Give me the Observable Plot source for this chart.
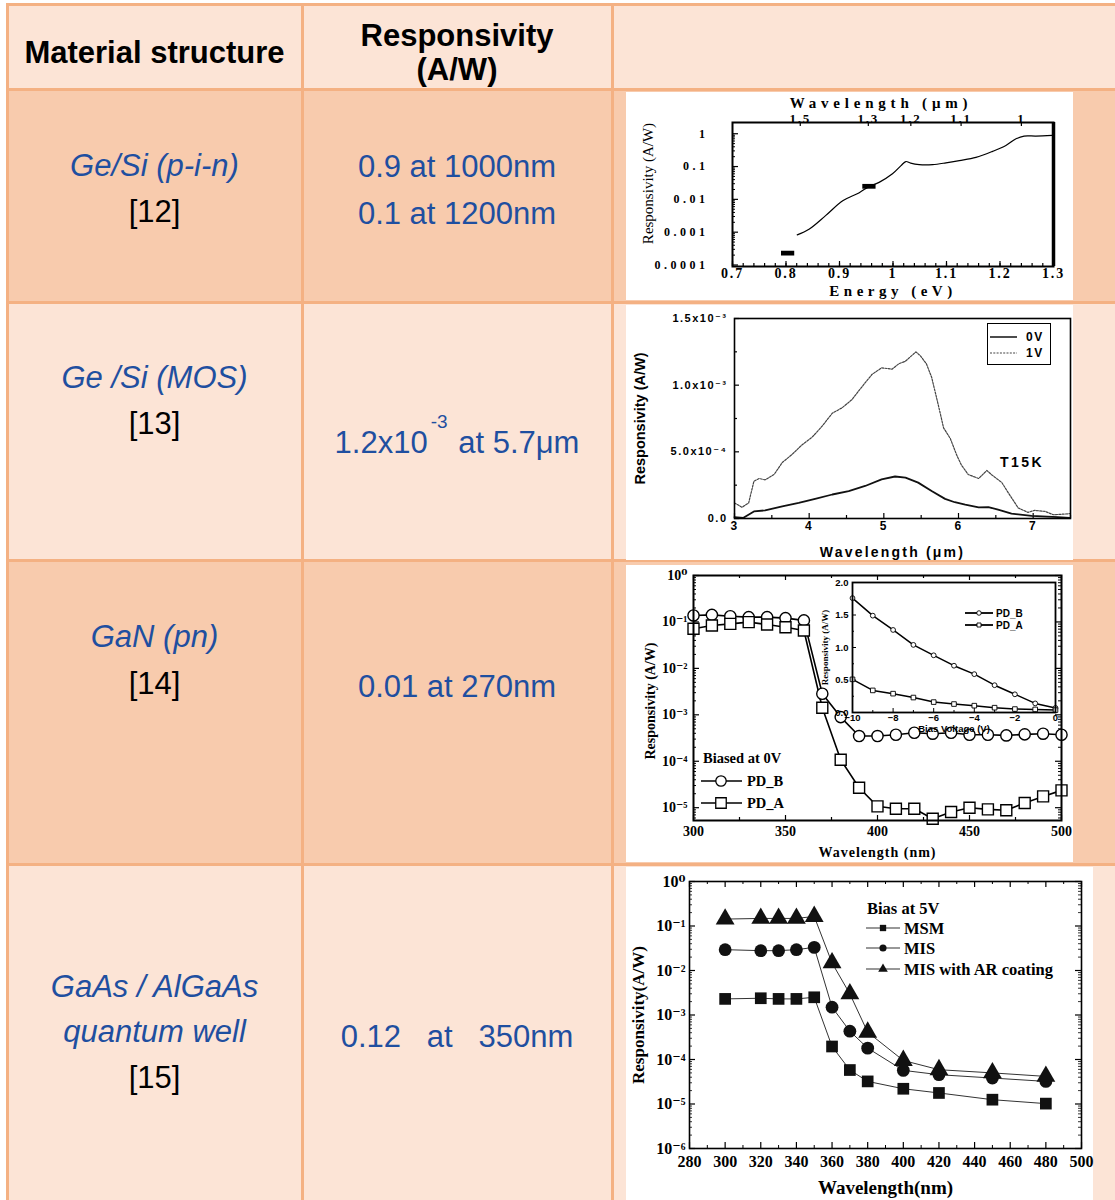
<!DOCTYPE html>
<html><head><meta charset="utf-8">
<script src="https://cdn.jsdelivr.net/npm/d3@7"></script>
<script src="https://cdn.jsdelivr.net/npm/@observablehq/plot@0.6"></script>
<style>
html,body{margin:0;padding:0;background:#fff;}
#page{position:relative;width:1115px;height:1200px;overflow:hidden;background:#fff;font-family:"Liberation Sans",Arial,sans-serif;}
.blk{position:absolute;}
.txt{position:absolute;text-align:center;font-size:31px;line-height:34px;white-space:pre;color:#000;}
.blue{color:#1f4fa0;}
.it{font-style:italic;}
.b{font-weight:bold;}
.chart{position:absolute;}
.chart svg{display:block;}
.ov{position:absolute;pointer-events:none;overflow:visible;}
</style></head><body><div id="page"></div>
<script>
// ---------------- table text ----------------
const headers = ["Material structure", "Responsivity\n(A/W)"];
const materials = [["Ge/Si (p-i-n)"], ["Ge /Si (MOS)"], ["GaN (pn)"], ["GaAs / AlGaAs", "quantum well"]];
const refs = ["[12]", "[13]", "[14]", "[15]"];
const responsivities = [["0.9 at 1000nm", "0.1 at 1200nm"], ["1.2x10|-3| at 5.7μm"], ["0.01 at 270nm"], ["0.12   at   350nm"]];

// ---------------- chart 1: Ge/Si p-i-n ----------------
const c1Energy = [0.821, 0.843, 0.874, 0.906, 0.937, 0.955, 0.974, 0.999, 1.015, 1.024, 1.033, 1.049, 1.074, 1.099, 1.124, 1.155, 1.186, 1.211, 1.230, 1.245, 1.267, 1.298];
const c1Resp = [0.00083, 0.00123, 0.0032, 0.0091, 0.016, 0.0245, 0.033, 0.060, 0.107, 0.142, 0.127, 0.115, 0.115, 0.13, 0.152, 0.19, 0.29, 0.44, 0.70, 0.85, 0.85, 0.89];
const c1MarkEnergy = [0.803, 0.955];
const c1MarkResp = [0.00023, 0.025];
const c1XTicks = [0.7, 0.8, 0.9, 1.0, 1.1, 1.2, 1.3];
const c1XTickLabels = ["0.7", "0.8", "0.9", "1", "1.1", "1.2", "1.3"];
const c1YTicks = [1, 0.1, 0.01, 0.001, 0.0001];
const c1YTickLabels = ["1", "0.1", "0.01", "0.001", "0.0001"];
const c1WavelengthTicks = [1.5, 1.3, 1.2, 1.1, 1];
const c1WavelengthLabels = ["1.5", "1.3", "1.2", "1.1", "1"];

// ---------------- chart 2: Ge/Si MOS ----------------
const c2Wl1V = [3.0, 3.10, 3.19, 3.26, 3.33, 3.41, 3.53, 3.64, 3.77, 3.90, 4.04, 4.17, 4.31, 4.44, 4.57, 4.71, 4.84, 4.97, 5.11, 5.20, 5.29, 5.37, 5.43, 5.49, 5.57, 5.64, 5.73, 5.80, 5.89, 5.98, 6.04, 6.13, 6.27, 6.38, 6.44, 6.58, 6.67, 6.80, 6.93, 7.02, 7.16, 7.27, 7.49];
const c2Resp1V = [0.117, 0.084, 0.117, 0.28, 0.30, 0.29, 0.33, 0.42, 0.48, 0.55, 0.61, 0.69, 0.79, 0.83, 0.89, 0.99, 1.08, 1.13, 1.12, 1.16, 1.18, 1.22, 1.25, 1.22, 1.16, 1.06, 0.85, 0.68, 0.60, 0.47, 0.40, 0.33, 0.30, 0.36, 0.33, 0.27, 0.19, 0.079, 0.046, 0.061, 0.053, 0.028, 0.036].map(v => v * 1e-3);
const c2Wl0V = [3.0, 3.12, 3.26, 3.41, 3.64, 3.86, 4.08, 4.31, 4.53, 4.75, 4.97, 5.15, 5.29, 5.46, 5.64, 5.82, 5.95, 6.09, 6.27, 6.40, 6.53, 6.71, 6.98, 7.33, 7.49];
const c2Resp0V = [0.010, 0.005, 0.053, 0.061, 0.091, 0.117, 0.147, 0.18, 0.206, 0.244, 0.294, 0.315, 0.307, 0.269, 0.206, 0.147, 0.122, 0.104, 0.084, 0.086, 0.066, 0.036, 0.020, 0.010, 0.005].map(v => v * 1e-3);
const c2XTicks = [3, 4, 5, 6, 7];
const c2YTicks = [0, 5e-4, 1e-3, 1.5e-3];
const c2YTickLabels = ["0.0", "5.0x10⁻⁴", "1.0x10⁻³", "1.5x10⁻³"];
const c2Series = ["0V", "1V"];

// ---------------- chart 3: GaN pn ----------------
const c3Wl = [300, 310, 320, 330, 340, 350, 360, 370, 380, 390, 400, 410, 420, 430, 440, 450, 460, 470, 480, 490, 500];
const c3PDB = [0.138, 0.142, 0.133, 0.127, 0.127, 0.121, 0.108, 0.00284, 0.000893, 0.000349, 0.000349, 0.000372, 0.000411, 0.000392, 0.000411, 0.000372, 0.000372, 0.00036, 0.00038, 0.000392, 0.000372];
const c3PDA = [0.0711, 0.084, 0.091, 0.099, 0.088, 0.077, 0.0655, 0.00142, 0.000108, 2.69e-5, 1.07e-5, 9.5e-6, 9.5e-6, 5.8e-6, 8.07e-6, 1.0e-5, 9.2e-6, 8.8e-6, 1.26e-5, 1.75e-5, 2.36e-5];
const c3XTicks = [300, 350, 400, 450, 500];
const c3YTicks = [1, 0.1, 0.01, 0.001, 0.0001, 0.00001];
const c3YTickLabels = ["10⁰", "10⁻¹", "10⁻²", "10⁻³", "10⁻⁴", "10⁻⁵"];
const c3InsetV = [-10, -9, -8, -7, -6, -5, -4, -3, -2, -1, 0];
const c3InsetPDB = [1.76, 1.49, 1.27, 1.04, 0.88, 0.72, 0.59, 0.42, 0.28, 0.14, 0.07];
const c3InsetPDA = [0.51, 0.34, 0.29, 0.23, 0.16, 0.13, 0.105, 0.074, 0.053, 0.047, 0.037];
const c3InsetXTicks = [-10, -8, -6, -4, -2, 0];
const c3InsetYTicks = [0, 0.5, 1.0, 1.5, 2.0];
const c3InsetYTickLabels = ["0.0", "0.5", "1.0", "1.5", "2.0"];
const c3Series = ["PD_B", "PD_A"];

// ---------------- chart 4: GaAs/AlGaAs QW ----------------
const c4Wl = [300, 320, 330, 340, 350, 360, 370, 380, 400, 420, 450, 480];
const c4MSM = [0.0023, 0.00238, 0.0023, 0.0023, 0.0025, 0.000196, 5.8e-5, 3.22e-5, 2.2e-5, 1.77e-5, 1.25e-5, 1.02e-5];
const c4MIS = [0.0294, 0.0279, 0.0279, 0.0294, 0.0331, 0.0015, 0.000433, 0.00018, 5.7e-5, 4.55e-5, 3.83e-5, 3.22e-5];
const c4MISAR = [0.143, 0.148, 0.148, 0.148, 0.164, 0.0148, 0.00298, 0.000411, 9.5e-5, 5.9e-5, 5.0e-5, 4.17e-5];
const c4XTicks = [280, 300, 320, 340, 360, 380, 400, 420, 440, 460, 480, 500];
const c4YTicks = [1, 0.1, 0.01, 0.001, 0.0001, 0.00001, 0.000001];
const c4YTickLabels = ["10⁰", "10⁻¹", "10⁻²", "10⁻³", "10⁻⁴", "10⁻⁵", "10⁻⁶"];
const c4Series = ["MSM", "MIS", "MIS with AR coating"];

// ================= layout =================
const page = document.getElementById("page");
const BORDER = "#f4b183", LIGHT = "#fce4d6", DARK = "#f8cbad";
function div(cls, css, html) {
  const d = document.createElement("div");
  d.className = cls; Object.assign(d.style, css);
  if (html != null) d.innerHTML = html;
  page.appendChild(d); return d;
}
const rowEdges = [4, 89, 302, 560, 864, 1200];
const rowFills = [LIGHT, DARK, LIGHT, DARK, LIGHT];
rowFills.forEach((f, i) => div("blk", {left: "7px", top: rowEdges[i] + "px", width: "1108px", height: (rowEdges[i + 1] - rowEdges[i]) + "px", background: f}));
rowEdges.slice(0, 5).forEach(y => div("blk", {left: "6px", top: (y - 1.5) + "px", width: "1109px", height: "3px", background: BORDER}));
[7, 302, 612].forEach(x => div("blk", {left: (x - 1.5) + "px", top: "3px", width: "3px", height: "1197px", background: BORDER}));

const col1 = [9, 300], col2 = [304, 610];
function line(col, cy, html, cls) {
  div("txt " + cls, {left: col[0] + "px", width: (col[1] - col[0]) + "px", top: (cy - 17) + "px"}, html);
}
line(col1, 53, headers[0], "b");
headers[1].split("\n").forEach((t, i) => line(col2, [36, 70][i], t, "b"));
const matCenters = [[166], [378], [637], [987, 1032]];
const refCenters = [212, 424, 684, 1078];
const respCenters = [[167, 214], [443], [687], [1037]];
materials.forEach((m, i) => {
  m.forEach((t, j) => line(col1, matCenters[i][j], t, "blue it"));
  line(col1, refCenters[i], refs[i], "");
  responsivities[i].forEach((t, j) => {
    const html = t.replace(/\|(.*?)\|/, '<span style="font-size:19px;position:relative;top:-25px;margin-left:3px;margin-right:2px">$1</span>');
    line(col2, respCenters[i][j], html, "blue");
  });
});

// ================= helpers =================
function box(left, top, w, h) {
  return div("chart", {left: left + "px", top: top + "px", width: w + "px", height: h + "px", background: "#fff"});
}
function logTicks(lo, hi, major) {
  const out = [];
  for (let e = lo; e < hi; e++) for (let m = major ? 1 : 2; m <= (major ? 1 : 9); m++) out.push(m * Math.pow(10, e));
  if (major) out.push(Math.pow(10, hi));
  return out;
}
function tickXs(vals, len, side, innerH, sw) {
  const o = {x: d => d, stroke: "black", strokeWidth: sw || 1};
  if (side === "bottom") o.insetTop = innerH - len; else o.insetBottom = innerH - len;
  return Plot.tickX(vals, o);
}
function tickYs(vals, len, side, innerW, sw) {
  const o = {y: d => d, stroke: "black", strokeWidth: sw || 1};
  if (side === "left") o.insetRight = innerW - len; else o.insetLeft = innerW - len;
  return Plot.tickY(vals, o);
}
// letter-spacing for horizontal texts (the source figures are stretched horizontally)
function spacing(svg, rules) {
  d3.select(svg).selectAll("text").each(function () {
    const tr = (this.getAttribute("transform") || "") + (this.parentNode.getAttribute("transform") || "");
    if (tr.includes("rotate")) return;
    const lab = this.parentNode.getAttribute("aria-label") || "";
    const t = this.textContent;
    for (const [test, val] of rules) {
      if (t === test || lab === test) { this.style.letterSpacing = val; return; }
    }
  });
}
function overlay(parent, w, h) {
  const s = d3.create("svg").attr("class", "ov").attr("width", w).attr("height", h)
    .style("left", "0px").style("top", "0px");
  parent.appendChild(s.node());
  return s;
}
function title(t, anchor, dx, dy, size, extra) {
  return Plot.text([t], Object.assign({text: d => d, frameAnchor: anchor, textAnchor: "middle", lineAnchor: "middle", dx, dy, fontSize: size, fontWeight: "bold"}, extra || {}));
}
function yTitle(t, dx, dy, size, extra) {
  return Plot.text([t], Object.assign({text: d => d, frameAnchor: "left", rotate: -90, textAnchor: "middle", lineAnchor: "middle", dx, dy, fontSize: size, fontWeight: "bold"}, extra || {}));
}
const SERIF = "'Liberation Serif','DejaVu Serif',serif";
const SANS = "'Liberation Sans','DejaVu Sans',sans-serif";
const rectSymbol = {draw(ctx, size) { const r = Math.sqrt(size / Math.PI); ctx.rect(-1.25 * r, -0.45 * r, 2.5 * r, 0.9 * r); }};

// ================= chart 1 =================
{
  const W = 447, H = 208, mL = 106, mR = 20, mT = 30, mB = 34;
  const iW = W - mL - mR, iH = H - mT - mB;
  const rows = c1Energy.map((e, i) => ({e, r: c1Resp[i]}));
  const marks = c1MarkEnergy.map((e, i) => ({e, r: c1MarkResp[i]}));
  const topE = c1WavelengthTicks.map(l => 1.24 / l);
  const p = Plot.plot({
    width: W, height: H, marginLeft: mL, marginRight: mR, marginTop: mT, marginBottom: mB,
    x: {domain: [0.7, 1.3], axis: null},
    y: {type: "log", domain: [0.00009, 2.2], axis: null},
    style: {background: "white", color: "black", fontFamily: SERIF, overflow: "visible"},
    marks: [
      tickXs(d3.range(35, 66).map(i => i / 50), 3, "bottom", iH, 1.2),
      tickXs(c1XTicks, 5, "bottom", iH, 1.2),
      tickXs(topE, 4, "top", iH, 1.2),
      tickYs(logTicks(-4, 0, false), 3, "left", iW, 1),
      tickYs(c1YTicks, 6, "left", iW, 1.2),
      Plot.line(rows, {x: "e", y: "r", stroke: "black", strokeWidth: 1.2, curve: "catmull-rom"}),
      Plot.dot(marks, {x: "e", y: "r", symbol: rectSymbol, r: 5.3, fill: "black"}),
      Plot.frame({stroke: "black", strokeWidth: 2}),
      Plot.ruleX([1.3], {stroke: "black", strokeWidth: 3.5}),
      Plot.axisX(c1XTicks, {anchor: "bottom", tickSize: 0, tickPadding: 2, label: null, fontSize: 14, fontWeight: "bold", tickFormat: d => c1XTickLabels[c1XTicks.indexOf(d)]}),
      Plot.axisX(topE, {anchor: "top", tickSize: 0, tickPadding: 0, label: null, fontSize: 13, fontWeight: "bold", tickFormat: d => c1WavelengthLabels[topE.indexOf(d)]}),
      Plot.axisY(c1YTicks, {anchor: "left", tickSize: 0, tickPadding: 24, label: null, fontSize: 12, fontWeight: "bold", tickFormat: d => c1YTickLabels[c1YTicks.indexOf(d)]}),
      title("Energy (eV)", "bottom", 0, 25, 15),
      title("Wavelength (μm)", "top", -12, -19, 15),
      yTitle("Responsivity (A/W)", -84, -11, 15, {fontWeight: "normal"})
    ]
  });
  spacing(p, [["Energy (eV)", "4.5px"], ["Wavelength (μm)", "4.8px"], ["x-axis tick label", "1.8px"], ["y-axis tick label", "3.5px"]]);
  box(626, 92, W, H).appendChild(p);
}

// ================= chart 2 =================
{
  const W = 447, H = 255, mL = 108, mR = 3, mT = 13, mB = 42;
  const iW = W - mL - mR, iH = H - mT - mB;
  const r1 = c2Wl1V.map((w, i) => ({w, r: c2Resp1V[i]}));
  const r0 = c2Wl0V.map((w, i) => ({w, r: c2Resp0V[i]}));
  const p = Plot.plot({
    width: W, height: H, marginLeft: mL, marginRight: mR, marginTop: mT, marginBottom: mB,
    x: {domain: [3, 7.5], axis: null},
    y: {domain: [0, 1.5e-3], axis: null},
    style: {background: "white", color: "black", fontFamily: SANS, overflow: "visible"},
    marks: [
      tickXs([3.5, 4.5, 5.5, 6.5, 7.5], 3, "bottom", iH, 1.2),
      tickXs(c2XTicks, 5, "bottom", iH, 1.2),
      tickYs([2.5e-4, 7.5e-4, 1.25e-3], 3, "left", iW, 1.2),
      tickYs(c2YTicks, 5, "left", iW, 1.2),
      Plot.line(r1, {x: "w", y: "r", stroke: "#444", strokeWidth: 1.2, strokeDasharray: "2,1.3"}),
      Plot.line(r0, {x: "w", y: "r", stroke: "#111", strokeWidth: 1.8}),
      Plot.frame({stroke: "black", strokeWidth: 1.6}),
      Plot.axisX(c2XTicks, {anchor: "bottom", tickSize: 0, tickPadding: 3, label: null, fontSize: 12, fontWeight: "bold"}),
      Plot.axisY(c2YTicks, {anchor: "left", tickSize: 0, tickPadding: 7, label: null, fontSize: 11, fontWeight: "bold", tickFormat: d => c2YTickLabels[c2YTicks.indexOf(d)]}),
      title("Wavelength (μm)", "bottom", -10, 34, 14),
      yTitle("Responsivity (A/W)", -94, 0, 14.5)
    ]
  });
  spacing(p, [["Wavelength (μm)", "2.2px"], ["x-axis tick label", "1.5px"], ["y-axis tick label", "1.5px"]]);
  const b = box(626, 305, W, H);
  b.appendChild(p);
  const o = overlay(b, W, H);
  o.append("rect").attr("x", 361.5).attr("y", 18.5).attr("width", 63).attr("height", 41).attr("fill", "white").attr("stroke", "black").attr("stroke-width", 1);
  [[32, "#111", null, 1.5], [48, "#444", "2,1.3", 1.2]].forEach(([y, c, dash, sw], i) => {
    o.append("line").attr("x1", 364).attr("x2", 391).attr("y1", y).attr("y2", y).attr("stroke", c).attr("stroke-width", sw).attr("stroke-dasharray", dash);
    o.append("text").attr("x", 400).attr("y", y).attr("dy", "0.36em").attr("font-family", SANS).attr("font-weight", "bold").attr("font-size", 12).style("letter-spacing", "1.5px").text(c2Series[i]);
  });
  o.append("text").attr("x", 396).attr("y", 157).attr("dy", "0.36em").attr("text-anchor", "middle").attr("font-family", SANS).attr("font-weight", "bold").attr("font-size", 14).style("letter-spacing", "2.5px").text("T15K");
}

// ================= chart 3 =================
{
  const W = 447, H = 297, mL = 67, mR = 12, mT = 10, mB = 42;
  const iW = W - mL - mR, iH = H - mT - mB;
  const rb = c3Wl.map((w, i) => ({w, r: c3PDB[i]}));
  const ra = c3Wl.map((w, i) => ({w, r: c3PDA[i]}));
  const yMinor = logTicks(-6, 0, false).filter(v => v > 5.3e-6);
  const p = Plot.plot({
    width: W, height: H, marginLeft: mL, marginRight: mR, marginTop: mT, marginBottom: mB,
    x: {domain: [300, 500], axis: null},
    y: {type: "log", domain: [5.3e-6, 1], axis: null},
    style: {background: "white", color: "black", fontFamily: SERIF, overflow: "visible"},
    marks: [
      tickXs([325, 375, 425, 475], 3, "bottom", iH, 1.2),
      tickXs(c3XTicks, 5, "bottom", iH, 1.2),
      tickXs([325, 375, 425, 475], 3, "top", iH, 1.2),
      tickXs(c3XTicks, 5, "top", iH, 1.2),
      tickYs(yMinor, 3, "left", iW, 1),
      tickYs(c3YTicks, 6, "left", iW, 1.2),
      tickYs(yMinor, 3, "right", iW, 1),
      tickYs(c3YTicks, 6, "right", iW, 1.2),
      Plot.line(rb, {x: "w", y: "r", stroke: "black", strokeWidth: 1.6}),
      Plot.line(ra, {x: "w", y: "r", stroke: "black", strokeWidth: 1.6}),
      Plot.dot(rb, {x: "w", y: "r", r: 5.6, fill: "white", stroke: "black", strokeWidth: 1.4}),
      Plot.dot(ra, {x: "w", y: "r", r: 6.2, symbol: "square", fill: "white", stroke: "black", strokeWidth: 1.4}),
      Plot.frame({stroke: "black", strokeWidth: 2}),
      Plot.axisX(c3XTicks, {anchor: "bottom", tickSize: 0, tickPadding: 6, label: null, fontSize: 14, fontWeight: "bold"}),
      Plot.axisY(c3YTicks, {anchor: "left", tickSize: 0, tickPadding: 6, label: null, fontSize: 14, fontWeight: "bold", tickFormat: d => c3YTickLabels[c3YTicks.indexOf(d)]}),
      title("Wavelength (nm)", "bottom", 0, 32, 14),
      yTitle("Responsivity (A/W)", -43, 3, 14)
    ]
  });
  spacing(p, [["Wavelength (nm)", "1px"]]);
  const b = box(626, 565, W, H);
  b.appendChild(p);
  // inset
  const IW = 245, IH = 160, imL = 37, imR = 5, imT = 5, imB = 25;
  const iiW = IW - imL - imR, iiH = IH - imT - imB;
  const ib = c3InsetV.map((v, i) => ({v, r: c3InsetPDB[i]}));
  const ia = c3InsetV.map((v, i) => ({v, r: c3InsetPDA[i]}));
  const ip = Plot.plot({
    width: IW, height: IH, marginLeft: imL, marginRight: imR, marginTop: imT, marginBottom: imB,
    x: {domain: [-10, 0], axis: null},
    y: {domain: [0, 2], axis: null},
    style: {background: "none", color: "black", fontFamily: SANS, overflow: "visible"},
    marks: [
      Plot.frame({fill: "white", stroke: "none"}),
      tickXs([-9, -7, -5, -3, -1], 2, "bottom", iiH, 1),
      tickXs(c3InsetXTicks, 4, "bottom", iiH, 1),
      tickYs([0.25, 0.75, 1.25, 1.75], 2, "left", iiW, 1),
      tickYs(c3InsetYTicks, 4, "left", iiW, 1),
      Plot.line(ib, {x: "v", y: "r", stroke: "black", strokeWidth: 1.5}),
      Plot.line(ia, {x: "v", y: "r", stroke: "black", strokeWidth: 1.5}),
      Plot.dot(ib, {x: "v", y: "r", r: 2.4, fill: "white", stroke: "black", strokeWidth: 0.9}),
      Plot.dot(ia, {x: "v", y: "r", r: 2.6, symbol: "square", fill: "white", stroke: "black", strokeWidth: 0.9}),
      Plot.frame({stroke: "black", strokeWidth: 1.8}),
      Plot.axisX(c3InsetXTicks, {anchor: "bottom", tickSize: 0, tickPadding: 2, label: null, fontSize: 9.5, fontWeight: "bold"}),
      Plot.axisY(c3InsetYTicks, {anchor: "left", tickSize: 0, tickPadding: 4, label: null, fontSize: 9.5, fontWeight: "bold", tickFormat: d => c3InsetYTickLabels[c3InsetYTicks.indexOf(d)]}),
      title("Bias Voltage (V)", "bottom", 0, 16, 9.5),
      yTitle("Responsivity (A/W)", -27, 0, 9, {fontFamily: SERIF})
    ]
  });
  ip.style.position = "absolute"; ip.style.left = "189px"; ip.style.top = "12px";
  b.appendChild(ip);
  const o = overlay(b, W, H);
  o.append("text").attr("x", 77).attr("y", 193).attr("dy", "0.36em").attr("font-family", SERIF).attr("font-weight", "bold").attr("font-size", 14.5).text("Biased at 0V");
  [[216, "circle"], [238, "square"]].forEach(([y, sym], i) => {
    o.append("line").attr("x1", 75).attr("x2", 116).attr("y1", y).attr("y2", y).attr("stroke", "black").attr("stroke-width", 1.6);
    o.append("path").attr("transform", `translate(95,${y})`).attr("d", d3.symbol(sym === "circle" ? d3.symbolCircle : d3.symbolSquare, sym === "circle" ? 85 : 110)()).attr("fill", "white").attr("stroke", "black").attr("stroke-width", 1.3);
    o.append("text").attr("x", 121).attr("y", y).attr("dy", "0.36em").attr("font-family", SERIF).attr("font-weight", "bold").attr("font-size", 14.5).text(c3Series[i]);
  });
  [[48, "circle"], [60, "square"]].forEach(([y, sym], i) => {
    o.append("line").attr("x1", 339).attr("x2", 367).attr("y1", y).attr("y2", y).attr("stroke", "black").attr("stroke-width", 1.8);
    o.append("path").attr("transform", `translate(353,${y})`).attr("d", d3.symbol(sym === "circle" ? d3.symbolCircle : d3.symbolSquare, 16)()).attr("fill", "white").attr("stroke", "black").attr("stroke-width", 0.9);
    o.append("text").attr("x", 370).attr("y", y).attr("dy", "0.36em").attr("font-family", SANS).attr("font-weight", "bold").attr("font-size", 10).text(c3Series[i]);
  });
}

// ================= chart 4 =================
{
  const W = 467, H = 333, mL = 63, mR = 12, mT = 14, mB = 52;
  const iW = W - mL - mR, iH = H - mT - mB;
  const series = [c4MSM, c4MIS, c4MISAR];
  const symbols = ["square", "circle", "triangle"];
  const radii = [6.6, 6.4, 7.0];
  const marks4 = [];
  series.forEach((s, k) => {
    const rows = c4Wl.map((w, i) => ({w, r: s[i]}));
    marks4.push(Plot.line(rows, {x: "w", y: "r", stroke: "#333", strokeWidth: 1}));
    marks4.push(Plot.dot(rows, {x: "w", y: "r", r: radii[k], symbol: symbols[k], fill: "#111", stroke: "none"}));
  });
  const xMinor = [290, 310, 330, 350, 370, 390, 410, 430, 450, 470, 490];
  const yMinor = logTicks(-6, 0, false);
  const p = Plot.plot({
    width: W, height: H, marginLeft: mL, marginRight: mR, marginTop: mT, marginBottom: mB,
    x: {domain: [280, 500], axis: null},
    y: {type: "log", domain: [1e-6, 1], axis: null},
    style: {background: "white", color: "black", fontFamily: SERIF, overflow: "visible"},
    marks: [
      tickXs(xMinor, 3, "bottom", iH, 1), tickXs(c4XTicks, 6, "bottom", iH, 1.2),
      tickXs(xMinor, 3, "top", iH, 1), tickXs(c4XTicks, 6, "top", iH, 1.2),
      tickYs(yMinor, 3, "left", iW, 0.8), tickYs(c4YTicks, 6, "left", iW, 1.2),
      tickYs(yMinor, 3, "right", iW, 0.8), tickYs(c4YTicks, 6, "right", iW, 1.2),
      ...marks4,
      Plot.frame({stroke: "black", strokeWidth: 1.6}),
      Plot.axisX(c4XTicks, {anchor: "bottom", tickSize: 0, tickPadding: 7, label: null, fontSize: 16, fontWeight: "bold"}),
      Plot.axisY(c4YTicks, {anchor: "left", tickSize: 0, tickPadding: 4, label: null, fontSize: 16, fontWeight: "bold", tickFormat: d => c4YTickLabels[c4YTicks.indexOf(d)]}),
      title("Wavelength(nm)", "bottom", 0, 39, 19),
      yTitle("Responsivity(A/W)", -51, 0, 17)
    ]
  });
  const b = box(626, 867, W, H);
  b.appendChild(p);
  const o = overlay(b, W, H);
  o.append("text").attr("x", 241).attr("y", 41).attr("dy", "0.36em").attr("font-family", SERIF).attr("font-weight", "bold").attr("font-size", 16.5).text("Bias at 5V");
  const symFns = [d3.symbolSquare, d3.symbolCircle, d3.symbolTriangle];
  [61, 81, 102].forEach((y, i) => {
    o.append("line").attr("x1", 240).attr("x2", 274).attr("y1", y).attr("y2", y).attr("stroke", "#333").attr("stroke-width", 1.2);
    o.append("path").attr("transform", `translate(257,${y})`).attr("d", d3.symbol(symFns[i], 40)()).attr("fill", "#111");
    o.append("text").attr("x", 278).attr("y", y).attr("dy", "0.36em").attr("font-family", SERIF).attr("font-weight", "bold").attr("font-size", 16.5).text(c4Series[i]);
  });
}
</script></body></html>
